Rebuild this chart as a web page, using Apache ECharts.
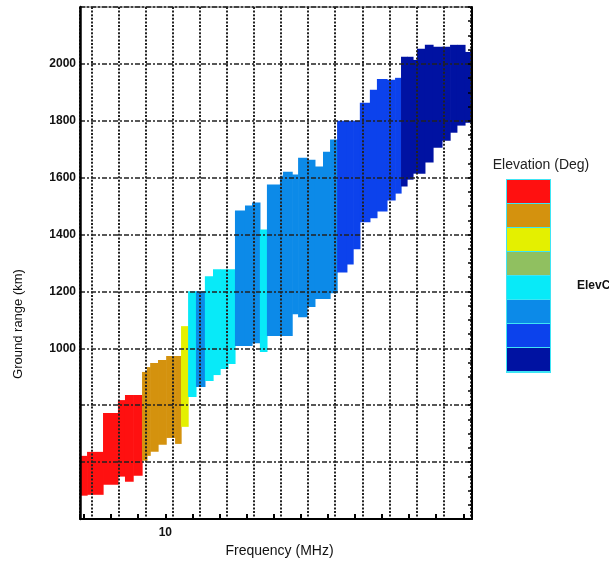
<!DOCTYPE html>
<html><head><meta charset="utf-8">
<script src="https://cdn.jsdelivr.net/npm/echarts@6/dist/echarts.min.js"></script>
<style>html,body{margin:0;padding:0;background:#fff;overflow:hidden}#c{width:609px;height:561px}</style>
</head><body><div id="c"></div>
<script>
// Frequency columns (MHz), ground range limits (km), elevation class index
const freqStart = [6.85,7.11,7.70,8.25,8.51,8.81, 9.14,9.32,9.44,9.73,10.03,10.36, 10.58,
  10.84,11.13,11.46,11.76,12.02,12.31,12.57,12.94,13.20,13.49,13.75,14.23,14.34,14.68,14.90,15.23,15.52,15.82,16.08,
  16.34,16.70,16.93,17.18,17.55,17.81,18.18,18.48,
  18.70,18.92,19.14,19.29,19.58,19.88,20.21,20.51,20.76,21.06];
const freqEnd = [7.11,7.70,8.25,8.51,8.81,9.14, 9.32,9.44,9.73,10.03,10.36,10.58, 10.84,
  11.13,11.46,11.76,12.02,12.31,12.57,12.94,13.20,13.49,13.75,14.23,14.34,14.68,14.90,15.23,15.52,15.82,16.08,16.34,
  16.70,16.93,17.18,17.55,17.81,18.18,18.48,18.70,
  18.92,19.14,19.29,19.58,19.88,20.21,20.51,20.76,21.06,21.32];
const rangeLow = [482,485,520,549,531,552, 605,622,636,661,685,664, 724,
  829,864,885,906,927,945,1008,1008,1018,987,1043,1043,1043,1120,1109,1145,1173,1173,1194,
  1267,1295,1348,1443,1457,1481,1520,1544,
  1569,1593,1614,1614,1653,1705,1730,1758,1783,1793];
const rangeHigh = [622,636,773,818,836,836, 917,934,948,959,973,973, 1078,
  1201,1201,1253,1278,1278,1278,1485,1502,1513,1418,1576,1607,1621,1611,1670,1663,1639,1691,1734,
  1800,1800,1800,1863,1909,1947,1944,1951,
  2025,2025,2014,2053,2067,2060,2060,2067,2067,2042];
const elevIndex = [0,0,0,0,0,0, 1,1,1,1,1,1, 2,
  4,5,4,4,4,4,5,5,5,4,5,5,5,5,5,5,5,5,5,
  6,6,6,6,6,6,6,6,
  7,7,7,7,7,7,7,7,7,7];
const elevColors = ['#ff1010','#d4920e','#e4f000','#90c060','#08eaf8','#0c8ae8','#0c42ec','#0012a2'];
const yLabelValues = [1000,1200,1400,1600,1800,2000];
const xLabelValues = [10];

const cells = freqStart.map((f, i) => [f, freqEnd[i], rangeLow[i], rangeHigh[i], elevIndex[i]]);

const chart = echarts.init(document.getElementById('c'), null, {renderer: 'canvas'});
const FONT = '"Liberation Sans", Arial, sans-serif';

const legendItems = [{type:'rect', shape:{x:506, y:179, width:45, height:194}, style:{fill:'#3ee4f4'}}];
elevColors.forEach((c, i) => {
  legendItems.push({type:'rect', shape:{x:507, y:180 + i*24, width:43, height:23}, style:{fill:c}});
});

chart.setOption({
  animation: false,
  backgroundColor: '#ffffff',
  grid: {left: 80, right: 137, top: 7, bottom: 42, outerBoundsMode: 'none', containLabel: false,
    show: true, borderColor: '#555', borderWidth: 1},
  xAxis: [{
    type: 'value', min: 6.85, max: 21.32, splitNumber: 14, minInterval: 1, maxInterval: 1,
    zlevel: 1,
    name: 'Frequency (MHz)', nameLocation: 'middle', nameGap: 25,
    nameTextStyle: {fontFamily: FONT, fontSize: 14, color: '#111', padding: [0, 0, 0, 7]},
    axisLine: {show: true, onZero: false, lineStyle: {color: '#000', width: 2}},
    axisTick: {show: true, inside: true, length: 5, lineStyle: {color: '#000', width: 2}},
    axisLabel: {fontFamily: FONT, fontSize: 12, fontWeight: 'bold', color: '#111', margin: 8,
      formatter: v => xLabelValues.indexOf(v) >= 0 ? String(v) : ''},
    splitLine: {show: false}
  }, {
    type: 'value', min: 6.58, max: 21.05, splitNumber: 14, minInterval: 1, maxInterval: 1,
    position: 'bottom', zlevel: 1,
    axisLine: {show: false}, axisTick: {show: false}, axisLabel: {show: false},
    splitLine: {show: true, lineStyle: {color: '#222', width: 2, type: [2, 1.6]}}
  }],
  yAxis: [{
    type: 'value', min: 400, max: 2200, interval: 200, zlevel: 1,
    name: 'Ground range (km)', nameLocation: 'middle', nameGap: 55,
    nameTextStyle: {fontFamily: FONT, fontSize: 13, color: '#111', padding: [0, 122, 0, 0]},
    axisLine: {show: true, onZero: false, lineStyle: {color: '#000', width: 2.5}},
    axisTick: {show: false},
    axisLabel: {fontFamily: FONT, fontSize: 12, fontWeight: 'bold', color: '#111', margin: 4,
      formatter: v => yLabelValues.indexOf(v) >= 0 ? String(v) : ''},
    splitLine: {show: true, lineStyle: {color: '#222', width: 1.5, type: [5, 2, 2, 2]}}
  }, {
    type: 'value', min: 400, max: 2200, interval: 50, position: 'right', zlevel: 1,
    axisLine: {show: true, onZero: false, lineStyle: {color: '#000', width: 2}},
    axisTick: {show: true, inside: true, length: 4, lineStyle: {color: '#000', width: 1.5}},
    axisLabel: {show: false}, splitLine: {show: false}
  }],
  series: [{
    type: 'custom', zlevel: 0, clip: true,
    xAxisIndex: 0, yAxisIndex: 0,
    encode: {x: [0, 1], y: [2, 3]},
    data: cells,
    renderItem: function (params, api) {
      const p0 = api.coord([api.value(0), api.value(3)]);
      const p1 = api.coord([api.value(1), api.value(2)]);
      return {type: 'rect',
        shape: {x: p0[0], y: p0[1], width: p1[0] - p0[0] + 0.6, height: p1[1] - p0[1]},
        style: {fill: elevColors[api.value(4)]}};
    }
  }],
  graphic: [
    {type: 'text', x: 541, y: 165, style: {text: 'Elevation (Deg)', textAlign: 'center', textVerticalAlign: 'middle',
      font: '14px ' + FONT, fill: '#222'}},
    {type: 'group', children: legendItems},
    {type: 'text', x: 577, y: 286, style: {text: 'ElevC', textAlign: 'left', textVerticalAlign: 'middle',
      font: 'bold 12px ' + FONT, fill: '#111'}}
  ]
});
</script></body></html>
